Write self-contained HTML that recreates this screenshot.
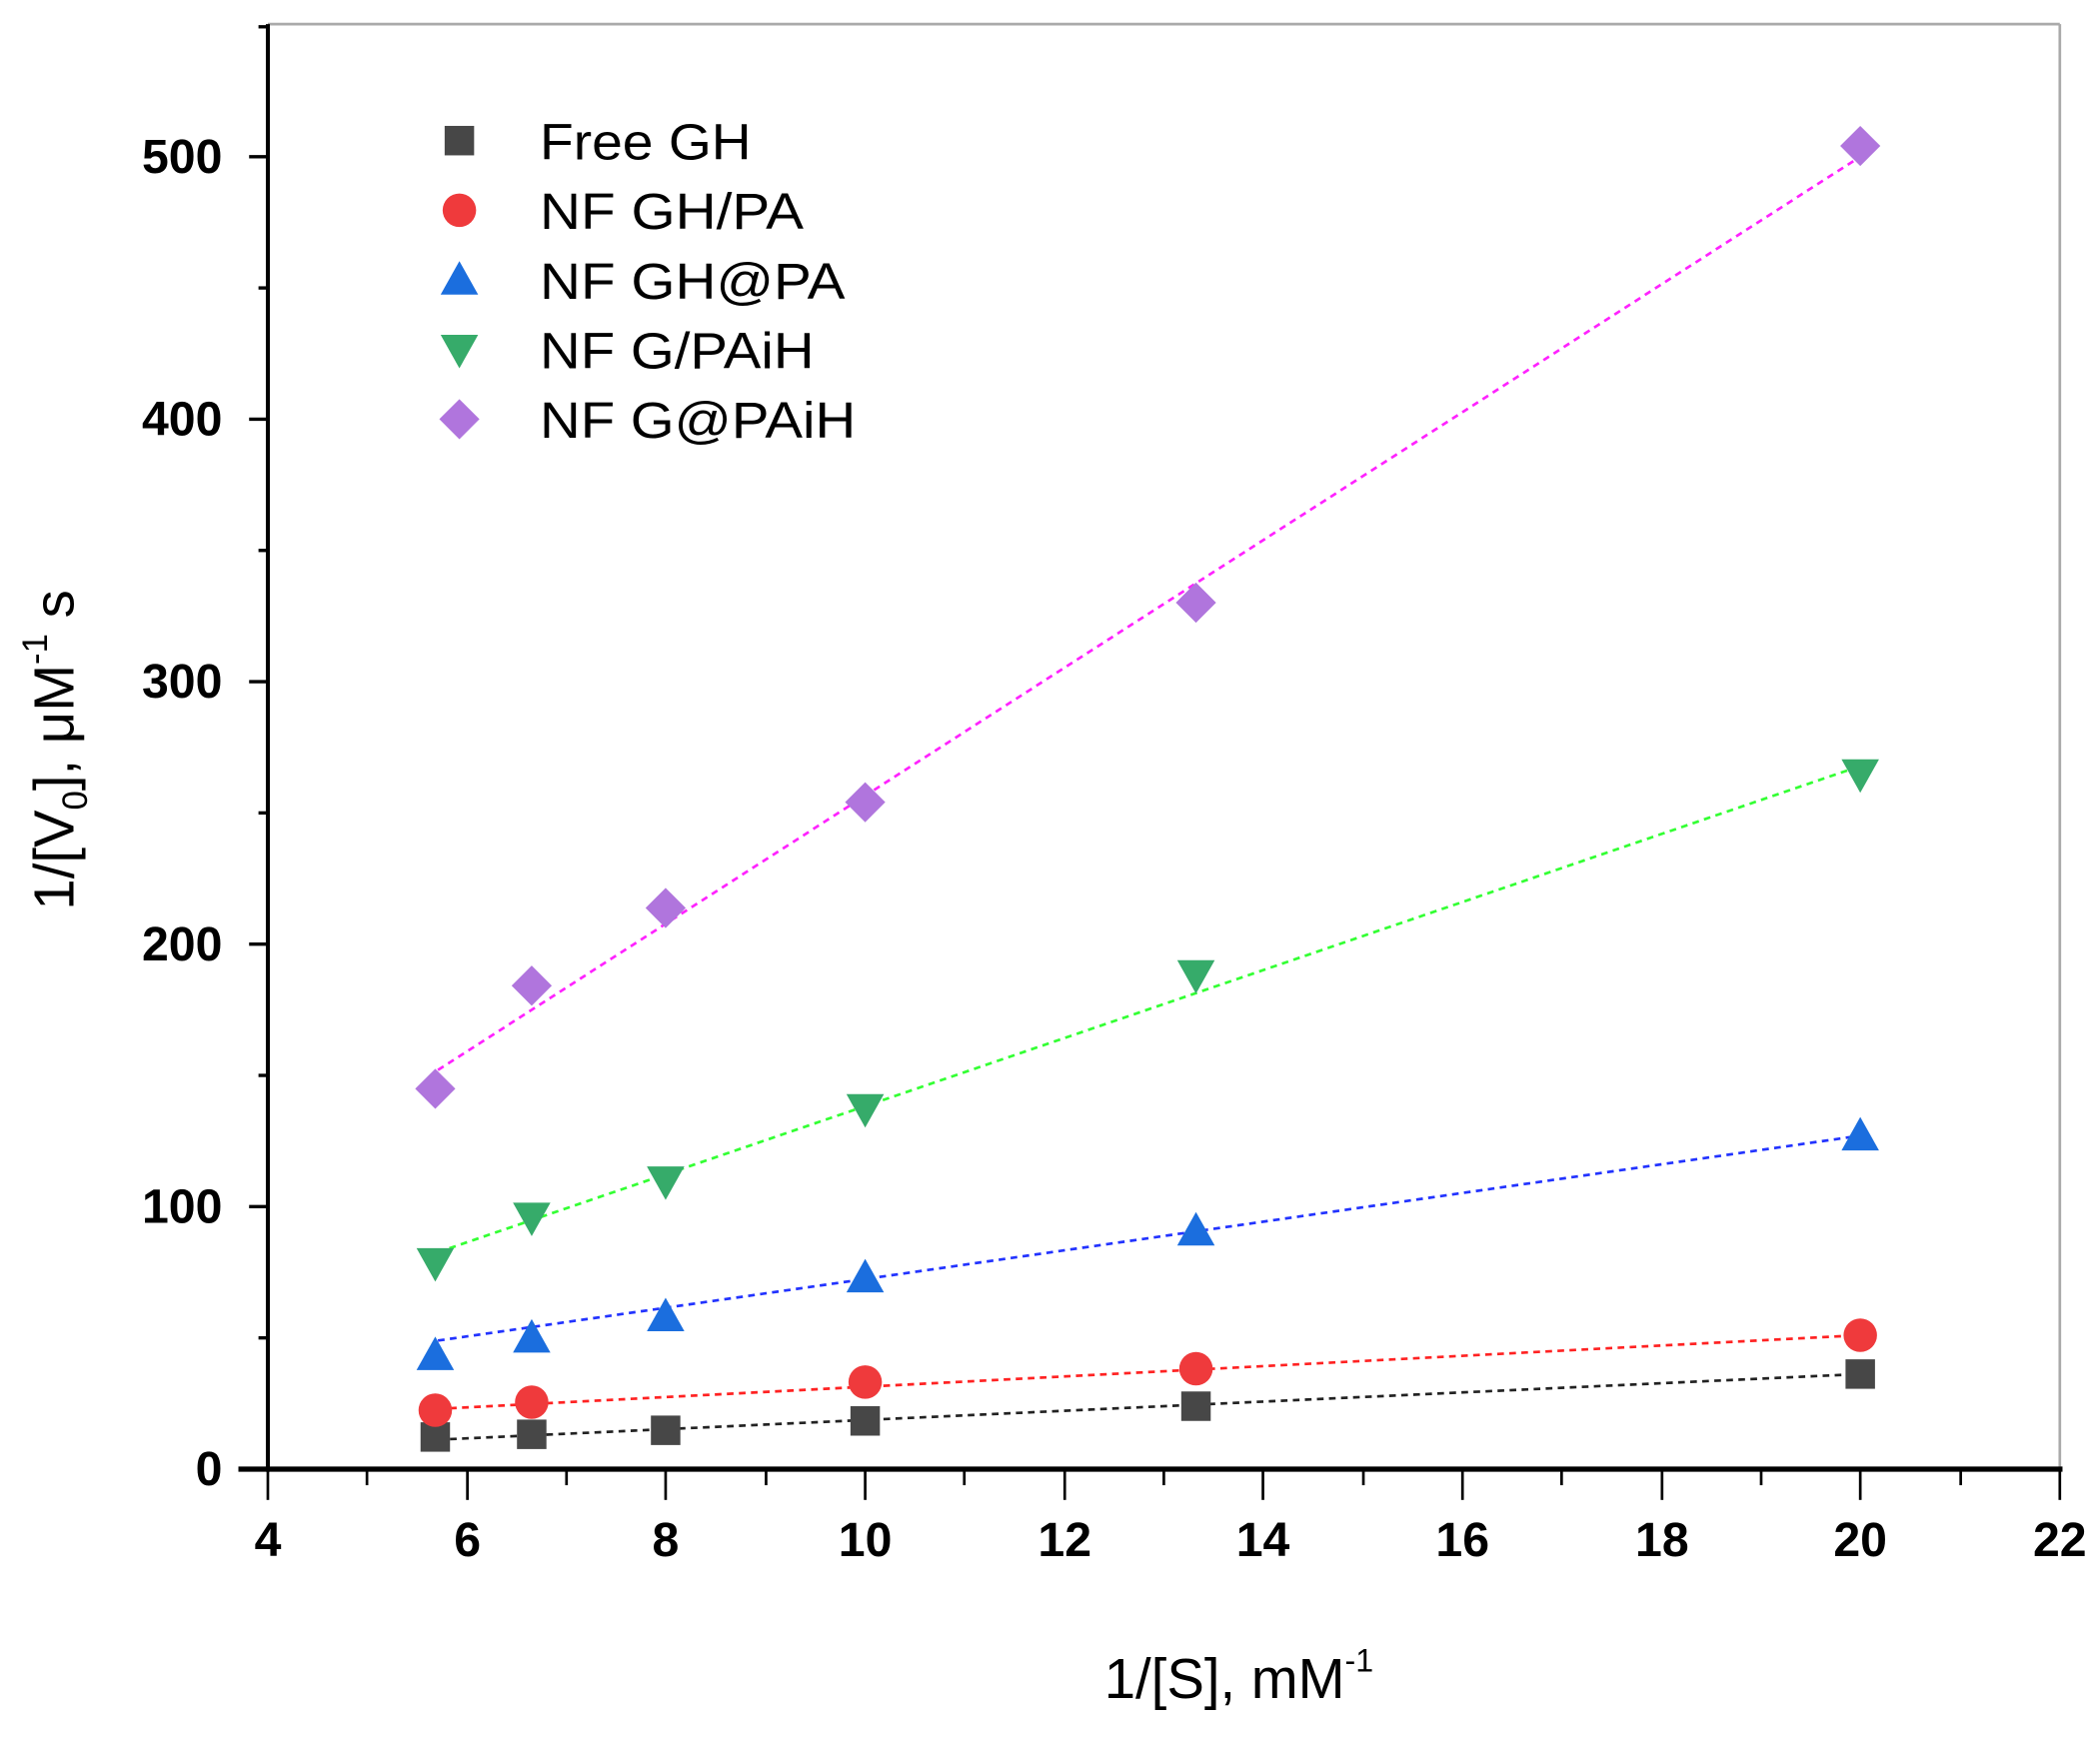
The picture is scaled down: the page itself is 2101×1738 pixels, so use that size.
<!DOCTYPE html>
<html><head><style>html,body{margin:0;padding:0;background:#fff}svg{display:block}</style></head><body>
<svg width="2101" height="1738" viewBox="0 0 1568 1297" preserveAspectRatio="none" xmlns="http://www.w3.org/2000/svg" font-family="Liberation Sans, Arial, sans-serif">
<defs>
<rect id="sq" x="-11" y="-11" width="22" height="22" fill="#474747"/>
<circle id="ci" r="12.5" fill="#ef3a3c"/>
<path id="tu" d="M0,-14 L14,11 L-14,11 Z" fill="#1b6ede"/>
<path id="td" d="M0,14 L14,-11 L-14,-11 Z" fill="#36ab6a"/>
<path id="di" d="M0,-15 L15,0 L0,15 L-15,0 Z" fill="#b075dd"/>
</defs>
<line x1="200" y1="18" x2="1538" y2="18" stroke="#aaa" stroke-width="2"/>
<line x1="1538" y1="18" x2="1538" y2="1097" stroke="#aaa" stroke-width="2"/>
<line x1="200" y1="18" x2="200" y2="1099" stroke="#000" stroke-width="3"/>
<line x1="178" y1="1097" x2="1540" y2="1097" stroke="#000" stroke-width="4"/>
<g stroke="#000" stroke-width="2.5">
<line x1="186" y1="1097" x2="200" y2="1097"/>
<line x1="186" y1="901" x2="200" y2="901"/>
<line x1="186" y1="705" x2="200" y2="705"/>
<line x1="186" y1="509" x2="200" y2="509"/>
<line x1="186" y1="313" x2="200" y2="313"/>
<line x1="186" y1="117" x2="200" y2="117"/>
<line x1="193" y1="999" x2="200" y2="999"/>
<line x1="193" y1="803" x2="200" y2="803"/>
<line x1="193" y1="607" x2="200" y2="607"/>
<line x1="193" y1="411" x2="200" y2="411"/>
<line x1="193" y1="215" x2="200" y2="215"/>
<line x1="193" y1="20" x2="200" y2="20"/>
</g>
<g stroke="#000" stroke-width="2">
<line x1="200" y1="1097" x2="200" y2="1120"/><line x1="349" y1="1097" x2="349" y2="1120"/><line x1="497" y1="1097" x2="497" y2="1120"/><line x1="646" y1="1097" x2="646" y2="1120"/><line x1="795" y1="1097" x2="795" y2="1120"/><line x1="943" y1="1097" x2="943" y2="1120"/><line x1="1092" y1="1097" x2="1092" y2="1120"/><line x1="1241" y1="1097" x2="1241" y2="1120"/><line x1="1389" y1="1097" x2="1389" y2="1120"/><line x1="1538" y1="1097" x2="1538" y2="1120"/>
<line x1="274" y1="1097" x2="274" y2="1109"/><line x1="423" y1="1097" x2="423" y2="1109"/><line x1="572" y1="1097" x2="572" y2="1109"/><line x1="720" y1="1097" x2="720" y2="1109"/><line x1="869" y1="1097" x2="869" y2="1109"/><line x1="1018" y1="1097" x2="1018" y2="1109"/><line x1="1166" y1="1097" x2="1166" y2="1109"/><line x1="1315" y1="1097" x2="1315" y2="1109"/><line x1="1464" y1="1097" x2="1464" y2="1109"/>
</g>
<g font-size="36" font-weight="bold" text-anchor="end">
<text x="166" y="1109">0</text><text x="166" y="913">100</text><text x="166" y="717">200</text><text x="166" y="521">300</text><text x="166" y="325">400</text><text x="166" y="129">500</text>
</g>
<g font-size="36" font-weight="bold" text-anchor="middle">
<text x="200" y="1162">4</text><text x="349" y="1162">6</text><text x="497" y="1162">8</text><text x="646" y="1162">10</text><text x="795" y="1162">12</text><text x="943" y="1162">14</text><text x="1092" y="1162">16</text><text x="1241" y="1162">18</text><text x="1389" y="1162">20</text><text x="1538" y="1162">22</text>
</g>
<text x="925" y="1268" font-size="42" text-anchor="middle">1/[S], mM<tspan font-size="24" dy="-20">-1</tspan></text>
<text transform="translate(55,560) rotate(-90)" font-size="42" text-anchor="middle">1/[V<tspan font-size="26" dy="10">0</tspan><tspan dy="-10">], μM</tspan><tspan font-size="26" dy="-20">-1</tspan><tspan dy="20"> s</tspan></text>
<g stroke-width="2" stroke-dasharray="5,4" fill="none">
<line x1="327" y1="1075" x2="1389" y2="1026" stroke="#222"/>
<line x1="327" y1="1052" x2="1389" y2="997" stroke="#f22"/>
<line x1="327" y1="1001" x2="1389" y2="848" stroke="#23f"/>
<line x1="327" y1="935" x2="1389" y2="572" stroke="#3f3"/>
<line x1="327" y1="799" x2="1389" y2="117" stroke="#f2f"/>
</g>
<use href="#sq" x="325" y="1073"/><use href="#sq" x="397" y="1071"/><use href="#sq" x="497" y="1068"/><use href="#sq" x="646" y="1061"/><use href="#sq" x="893" y="1050"/><use href="#sq" x="1389" y="1026"/>
<use href="#ci" x="325" y="1053"/><use href="#ci" x="397" y="1047"/><use href="#ci" x="646" y="1032"/><use href="#ci" x="893" y="1022"/><use href="#ci" x="1389" y="997"/>
<use href="#tu" x="325" y="1012"/><use href="#tu" x="397" y="999"/><use href="#tu" x="497" y="983"/><use href="#tu" x="646" y="954"/><use href="#tu" x="893" y="919"/><use href="#tu" x="1389" y="848"/>
<use href="#td" x="325" y="943"/><use href="#td" x="397" y="909"/><use href="#td" x="497" y="882"/><use href="#td" x="646" y="828"/><use href="#td" x="893" y="728"/><use href="#td" x="1389" y="578"/>
<use href="#di" x="325" y="813"/><use href="#di" x="397" y="736"/><use href="#di" x="497" y="678"/><use href="#di" x="646" y="599"/><use href="#di" x="893" y="450"/><use href="#di" x="1389" y="109"/>
<use href="#sq" x="343" y="105"/><use href="#ci" x="343" y="157"/><use href="#tu" x="343" y="209"/><use href="#td" x="343" y="261"/><use href="#di" x="343" y="313"/>
<g font-size="38">
<text x="403" y="119" textLength="158" lengthAdjust="spacingAndGlyphs">Free GH</text><text x="403" y="171" textLength="197" lengthAdjust="spacingAndGlyphs">NF GH/PA</text><text x="403" y="223" textLength="228" lengthAdjust="spacingAndGlyphs">NF GH@PA</text><text x="403" y="275" textLength="205" lengthAdjust="spacingAndGlyphs">NF G/PAiH</text><text x="403" y="327" textLength="236" lengthAdjust="spacingAndGlyphs">NF G@PAiH</text>
</g>
</svg>
</body></html>
